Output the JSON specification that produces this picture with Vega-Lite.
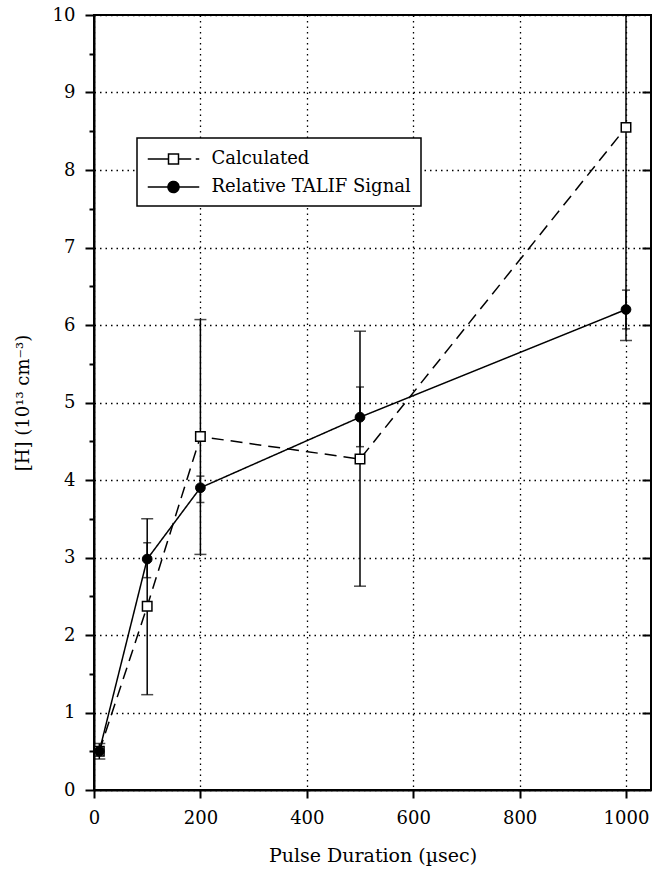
{
  "$schema": "https://vega.github.io/schema/vega-lite/v6.json",
  "autosize": {"type": "none"},
  "padding": {"left": 94, "top": 15, "right": 13, "bottom": 87},
  "width": 557,
  "height": 775,
  "config": {
    "font": "DejaVu Serif",
    "view": {"stroke": "black", "strokeWidth": 2},
    "legend": {"strokeWidth": 1.5, "symbolStrokeWidth": 1.5},
    "axis": {
      "labelFont": "DejaVu Serif",
      "titleFont": "DejaVu Serif",
      "labelColor": "black",
      "titleColor": "black",
      "labelFontSize": 18,
      "titleFontSize": 19,
      "titleFontWeight": "normal",
      "domainColor": "black",
      "domainWidth": 2,
      "tickColor": "black",
      "tickWidth": 2,
      "gridColor": "black",
      "gridDash": [1.5, 4],
      "gridWidth": 1.3,
      "gridOpacity": 1
    }
  },
  "data": {
    "values": [
      {"t": 10, "series": "Calculated", "h": 0.5, "lo": 0.4, "hi": 0.6},
      {"t": 100, "series": "Calculated", "h": 2.37, "lo": 1.23, "hi": 3.5},
      {"t": 200, "series": "Calculated", "h": 4.56, "lo": 3.04, "hi": 6.07},
      {"t": 500, "series": "Calculated", "h": 4.27, "lo": 2.63, "hi": 5.92},
      {"t": 1000, "series": "Calculated", "h": 8.55, "lo": 5.8, "hi": 11.3},
      {"t": 10, "series": "Relative TALIF Signal", "h": 0.5, "lo": null, "hi": null},
      {"t": 100, "series": "Relative TALIF Signal", "h": 2.98, "lo": 2.74, "hi": 3.19},
      {"t": 200, "series": "Relative TALIF Signal", "h": 3.9, "lo": 3.71, "hi": 4.05},
      {"t": 500, "series": "Relative TALIF Signal", "h": 4.81, "lo": 4.43, "hi": 5.2},
      {"t": 1000, "series": "Relative TALIF Signal", "h": 6.2, "lo": 5.95, "hi": 6.45}
    ]
  },
  "resolve": {"axis": {"y": "independent"}},
  "layer": [
    {
      "mark": {"type": "line", "color": "black", "strokeWidth": 1.5},
      "encoding": {
        "x": {
          "field": "t", "type": "quantitative",
          "scale": {"domain": [0, 1047], "nice": false, "zero": false},
          "axis": {
            "title": "Pulse Duration (µsec)",
            "values": [0, 200, 400, 600, 800, 1000],
            "format": "d",
            "tickSize": 8,
            "labelPadding": 11,
            "titlePadding": 19,
            "labelOverlap": false,
            "labelBound": false,
            "labelFlush": false
          }
        },
        "y": {
          "field": "h", "type": "quantitative",
          "scale": {"domain": [0, 10], "nice": false},
          "axis": {
            "orient": "left",
            "title": "[H] (10¹³ cm⁻³)",
            "titleFontSize": 18,
            "values": [0, 0.5, 1, 1.5, 2, 2.5, 3, 3.5, 4, 4.5, 5, 5.5, 6, 6.5, 7, 7.5, 8, 8.5, 9, 9.5, 10],
            "labelExpr": "datum.value % 1 === 0 ? format(datum.value, 'd') : ''",
            "tickSize": {"condition": {"test": "datum.value % 1 === 0", "value": 9}, "value": 5},
            "gridOpacity": {"condition": {"test": "datum.value % 1 === 0", "value": 1}, "value": 0},
            "labelPadding": 10,
            "titlePadding": 20,
            "labelOverlap": false,
            "labelBound": false,
            "labelFlush": false
          }
        },
        "strokeDash": {
          "field": "series", "type": "nominal",
          "scale": {"domain": ["Calculated", "Relative TALIF Signal"], "range": [[12, 7], [1, 0]]},
          "legend": {
            "title": null,
            "orient": "none",
            "legendX": 43,
            "legendY": 123,
            "strokeColor": "black",
            "fillColor": "white",
            "padding": 10,
            "labelFont": "DejaVu Serif",
            "labelFontSize": 18,
            "labelColor": "black",
            "labelLimit": 400,
            "symbolOffset": 15.5,
            "labelOffset": 27,
            "rowPadding": 8,
            "symbolSize": 400,
            "symbolStrokeColor": "black",
            "symbolDash": [1, 0],
            "encode": {
              "symbols": {
                "update": {
                  "shape": [
                    {"test": "datum.value === 'Calculated'", "value": "M-2.5,0H-1.5M-1.5,0H-0.55M-0.5,-0.5H0.5M0.5,-0.5V0.5M0.5,0.5H-0.5M-0.5,0.5V-0.5M0.65,0H1.7M2.3,0H2.5"},
                    {"value": "M-2.5,0H-0.55M0.55,0H2.5M-0.55,0A0.55,0.55 0 1,1 0.55,0A0.55,0.55 0 1,1 -0.55,0Z"}
                  ],
                  "fill": [
                    {"test": "datum.value === 'Calculated'", "value": "white"},
                    {"value": "black"}
                  ],
                  "strokeDash": {"value": [1, 0]},
                  "strokeCap": {"value": "square"},
                  "stroke": {"value": "black"}
                }
              }
            }
          }
        }
      }
    },
    {
      "mark": {"type": "rule", "color": "black", "strokeWidth": 1.5, "clip": true},
      "transform": [{"filter": "datum.lo != null"}],
      "encoding": {
        "x": {"field": "t", "type": "quantitative"},
        "y": {
          "field": "lo", "type": "quantitative",
          "axis": {
            "orient": "right",
            "title": null,
            "labels": false,
            "domain": false,
            "grid": false,
            "values": [1, 2, 3, 4, 5, 6, 7, 8, 9],
            "tickSize": 9,
            "offset": -9
          }
        },
        "y2": {"field": "hi"}
      }
    },
    {
      "mark": {"type": "tick", "orient": "horizontal", "color": "black", "thickness": 1.5, "size": 12, "clip": true},
      "transform": [{"filter": "datum.series === 'Calculated'"}, {"fold": ["lo", "hi"], "as": ["end", "v"]}],
      "encoding": {
        "x": {"field": "t", "type": "quantitative"},
        "y": {"field": "v", "type": "quantitative", "axis": null}
      }
    },
    {
      "mark": {"type": "tick", "orient": "horizontal", "color": "black", "thickness": 1.5, "size": 8, "clip": true},
      "transform": [{"filter": "datum.series !== 'Calculated' && datum.lo != null"}, {"fold": ["lo", "hi"], "as": ["end", "v"]}],
      "encoding": {
        "x": {"field": "t", "type": "quantitative"},
        "y": {"field": "v", "type": "quantitative", "axis": null}
      }
    },
    {
      "mark": {"type": "point", "shape": "square", "size": 90, "filled": false, "fill": "white", "stroke": "black", "strokeWidth": 1.5, "opacity": 1},
      "transform": [{"filter": "datum.series === 'Calculated'"}],
      "encoding": {
        "x": {"field": "t", "type": "quantitative"},
        "y": {"field": "h", "type": "quantitative", "axis": null}
      }
    },
    {
      "mark": {"type": "point", "shape": "circle", "size": 95, "filled": true, "fill": "black", "stroke": "black", "strokeWidth": 1, "opacity": 1},
      "transform": [{"filter": "datum.series !== 'Calculated'"}],
      "encoding": {
        "x": {"field": "t", "type": "quantitative"},
        "y": {"field": "h", "type": "quantitative", "axis": null}
      }
    }
  ]
}
